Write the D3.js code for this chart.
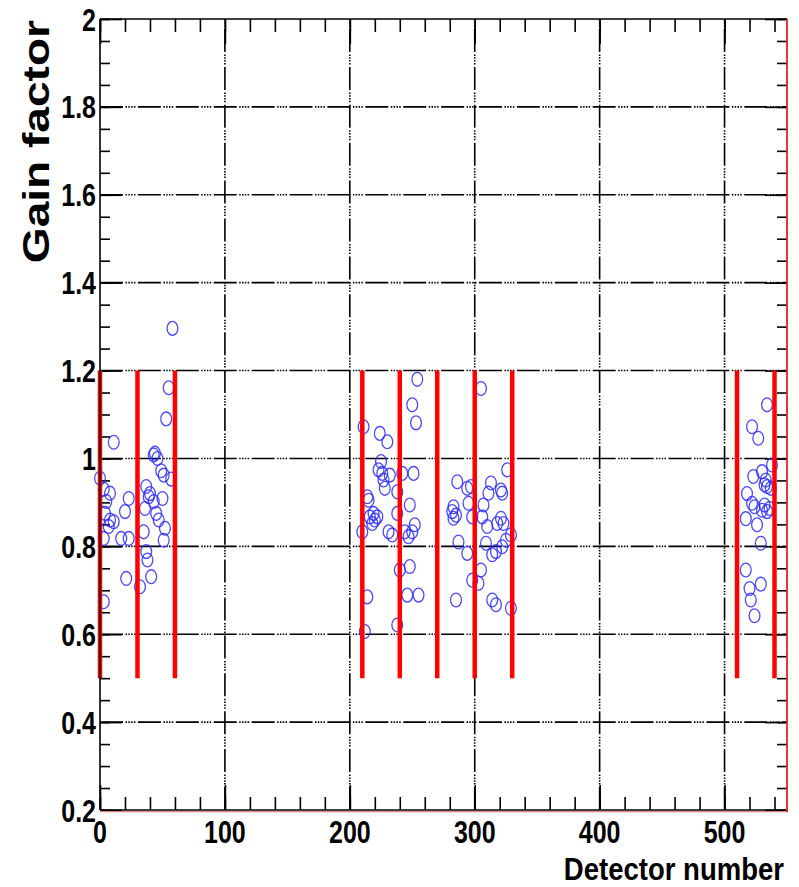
<!DOCTYPE html>
<html>
<head>
<meta charset="utf-8">
<script src="https://cdn.jsdelivr.net/npm/d3@7"></script>
<style>
  html, body { margin: 0; padding: 0; background: #fff; }
  svg { display: block; }
  text { font-family: "Liberation Sans", Arial, Helvetica, sans-serif; font-weight: bold; fill: #000; }
</style>
</head>
<body>
<svg id="chart" width="799" height="887"></svg>
<script>
// ---------------- data ----------------
const detectorIds = [
  // detectors 0-60
  0, 58, 55, 53, 11, 43, 46, 44, 49, 51, 57, 8, 5, 23, 37, 39, 43, 50, 20, 36,
  45, 47, 11, 7, 4, 52, 35, 17, 23, 3, 51, 37, 38, 41, 21, 32, 3, 40, 3, 8,
  // detectors 210-270
  254, 250, 253, 211, 224, 230, 225, 223, 226, 232, 242, 251, 228, 238, 215, 248,
  219, 216, 220, 218, 222, 238, 252, 210, 231, 234, 244, 247, 250, 240, 248, 246,
  255, 214, 238, 212, 214, 227,
  // detectors 270-330
  305, 326, 286, 297, 313, 321, 322, 311, 295, 307, 283, 282, 285, 283, 298, 306,
  321, 323, 318, 310, 329, 325, 287, 309, 317, 314, 322, 294, 305, 298, 303, 285,
  314, 317, 329, 294,
  // detectors 510-540
  534, 522, 527, 538, 530, 523, 533, 532, 534, 537, 518, 522, 524, 532, 536, 534,
  530, 517, 526, 529, 517, 529, 520, 521, 524
];
const gainFactors = [
  0.955, 1.296, 1.161, 1.090, 1.037, 1.008, 1.000, 1.012, 0.972, 0.962, 0.953, 0.921, 0.902, 0.909, 0.936, 0.913, 0.902, 0.909, 0.879, 0.886,
  0.875, 0.860, 0.856, 0.845, 0.875, 0.841, 0.833, 0.818, 0.818, 0.818, 0.814, 0.788, 0.769, 0.731, 0.727, 0.708, 0.674, 0.920, 0.930, 0.860,
  1.180, 1.122, 1.081, 1.072, 1.057, 1.038, 0.993, 0.974, 0.966, 0.962, 0.966, 0.966, 0.932, 0.924, 0.905, 0.894,
  0.875, 0.867, 0.860, 0.852, 0.867, 0.875, 0.849, 0.833, 0.833, 0.826, 0.833, 0.822, 0.833, 0.746, 0.754, 0.689,
  0.689, 0.685, 0.621, 0.606, 0.913, 0.951,
  1.159, 0.974, 0.947, 0.936, 0.944, 0.928, 0.921, 0.921, 0.898, 0.894, 0.890, 0.879, 0.871, 0.864, 0.867, 0.867,
  0.864, 0.852, 0.852, 0.845, 0.826, 0.814, 0.810, 0.807, 0.788, 0.781, 0.799, 0.784, 0.746, 0.723, 0.716, 0.678,
  0.678, 0.667, 0.659, 0.932,
  1.122, 1.072, 1.046, 0.985, 0.970, 0.959, 0.951, 0.940, 0.936, 0.932, 0.920, 0.898, 0.890, 0.894, 0.886, 0.879,
  0.882, 0.863, 0.849, 0.807, 0.746, 0.714, 0.704, 0.678, 0.642
];
// module boundaries (red lines), drawn from gain 0.5 to 1.2
const boundaryDetectors = [0, 30, 60, 210, 240, 270, 300, 330, 510, 540];
const boundaryRange = [0.5, 1.2];

const xDomain = [0, 550];
const yDomain = [0.2, 2.0];
const xMajorTicks = [0, 100, 200, 300, 400, 500];
const xTickLabels = ["0", "100", "200", "300", "400", "500"];
const yMajorTicks = [0.2, 0.4, 0.6, 0.8, 1.0, 1.2, 1.4, 1.6, 1.8, 2.0];
const yTickLabels = ["0.2", "0.4", "0.6", "0.8", "1", "1.2", "1.4", "1.6", "1.8", "2"];
const xMinorStep = 20;
const yMinorStep = 0.05;
const xTitle = "Detector number";
const yTitle = "Gain factor";

// ---------------- layout ----------------
const L = 100, R = 787, T = 19, B = 810;
const stretch = 1.28; // vertical stretch of the original rendering

const svg = d3.select("#chart");
const x = d3.scaleLinear().domain(xDomain).range([L, R]);
const y = d3.scaleLinear().domain(yDomain).range([B, T]);

const gridDash = "23,2.5,1.5,1.3,1.5,1.3,1.5,1.3,1.5,2.5";

// grid lines
const grid = svg.append("g").attr("stroke", "#000").attr("stroke-width", 1.6)
  .attr("stroke-dasharray", gridDash).attr("fill", "none");
grid.selectAll("line.gx").data(xMajorTicks.filter(v => v > xDomain[0])).join("line")
  .attr("x1", d => x(d)).attr("x2", d => x(d)).attr("y1", B).attr("y2", T);
grid.selectAll("line.gy").data(yMajorTicks.filter(v => v > yDomain[0] && v < yDomain[1])).join("line")
  .attr("x1", L).attr("x2", R).attr("y1", d => y(d)).attr("y2", d => y(d));

// ticks via d3 axes (inward)
const xMinor = d3.range(xDomain[0], xDomain[1] + 0.001, xMinorStep);
const yMinor = d3.range(yDomain[0], yDomain[1] + 0.0001, yMinorStep).map(v => +v.toFixed(3));

function styleAxis(g) {
  g.select(".domain").remove();
  g.selectAll(".tick line").attr("stroke", "#000").attr("stroke-width", 1.6);
  g.selectAll(".tick text").remove();
}
// bottom
svg.append("g").attr("transform", `translate(0,${B})`)
  .call(d3.axisTop(x).tickValues(xMinor).tickSize(13)).call(styleAxis);
svg.append("g").attr("transform", `translate(0,${B})`)
  .call(d3.axisTop(x).tickValues(xMajorTicks).tickSize(25)).call(styleAxis);
// top
svg.append("g").attr("transform", `translate(0,${T})`)
  .call(d3.axisBottom(x).tickValues(xMinor).tickSize(13)).call(styleAxis);
svg.append("g").attr("transform", `translate(0,${T})`)
  .call(d3.axisBottom(x).tickValues(xMajorTicks).tickSize(25)).call(styleAxis);
// left
svg.append("g").attr("transform", `translate(${L},0)`)
  .call(d3.axisRight(y).tickValues(yMinor).tickSize(10)).call(styleAxis);
svg.append("g").attr("transform", `translate(${L},0)`)
  .call(d3.axisRight(y).tickValues(yMajorTicks).tickSize(22)).call(styleAxis);
// right
svg.append("g").attr("transform", `translate(${R},0)`)
  .call(d3.axisLeft(y).tickValues(yMinor).tickSize(10)).call(styleAxis);
svg.append("g").attr("transform", `translate(${R},0)`)
  .call(d3.axisLeft(y).tickValues(yMajorTicks).tickSize(22)).call(styleAxis);

// data points: open blue markers
const pts = detectorIds.map((d, i) => ({ d, g: gainFactors[i] }));
svg.append("g").selectAll("ellipse").data(pts).join("ellipse")
  .attr("cx", p => x(p.d)).attr("cy", p => y(p.g))
  .attr("rx", 5.4).attr("ry", 6.9)
  .attr("fill", "none").attr("stroke", "#2b2bff").attr("stroke-width", 1.3)
  .attr("stroke-opacity", 0.85);

// red module boundaries
svg.append("g").selectAll("line").data(boundaryDetectors).join("line")
  .attr("x1", d => x(d)).attr("x2", d => x(d))
  .attr("y1", y(boundaryRange[0])).attr("y2", y(boundaryRange[1]))
  .attr("stroke", "#ff0000").attr("stroke-width", 4.5);

// frame
svg.append("line").attr("x1", L).attr("x2", R).attr("y1", T).attr("y2", T)
  .attr("stroke", "#000").attr("stroke-width", 1.6);
svg.append("line").attr("x1", L).attr("x2", L).attr("y1", T).attr("y2", B)
  .attr("stroke", "#000").attr("stroke-width", 1.6);
svg.append("line").attr("x1", L).attr("x2", R).attr("y1", B).attr("y2", B)
  .attr("stroke", "#000").attr("stroke-width", 1.6);
svg.append("line").attr("x1", L).attr("x2", R + 1).attr("y1", B + 1.6).attr("y2", B + 1.6)
  .attr("stroke", "#f08080").attr("stroke-width", 1.2);
svg.append("line").attr("x1", R).attr("x2", R).attr("y1", T).attr("y2", B + 2)
  .attr("stroke", "#e8202a").attr("stroke-width", 1.8);

// tick labels
svg.append("g").selectAll("g").data(yMajorTicks).join("g")
  .attr("transform", d => `translate(96,${y(d)}) scale(1,${stretch})`)
  .append("text").attr("text-anchor", "end").attr("dy", "0.36em")
  .attr("font-size", 25).text((d, i) => yTickLabels[i]);

svg.append("g").selectAll("g").data(xMajorTicks).join("g")
  .attr("transform", d => `translate(${x(d)},843) scale(1,${stretch})`)
  .append("text").attr("text-anchor", "middle")
  .attr("font-size", 25).text((d, i) => xTickLabels[i]);

// axis titles
svg.append("g").attr("transform", `translate(784,880) scale(1.08,1.22)`)
  .append("text").attr("text-anchor", "end").attr("font-size", 25.5).text(xTitle);
svg.append("g").attr("transform", `translate(49,20) rotate(-90) scale(${stretch},1)`)
  .append("text").attr("text-anchor", "end").attr("font-size", 36).text(yTitle);
</script>
</body>
</html>
